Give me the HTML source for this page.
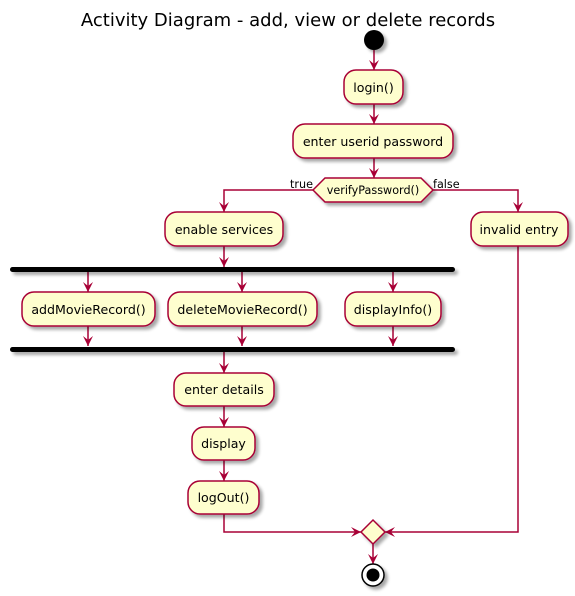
<!DOCTYPE html>
<html><head><style>body{margin:0;background:#fff}svg{display:block}text{font-family:"DejaVu Sans","Liberation Sans",sans-serif;fill:#000}</style></head><body>
<svg width="575" height="596" viewBox="0 0 575 596" xmlns="http://www.w3.org/2000/svg">
<defs>
<filter id="sh" x="-10%" y="-10%" width="130%" height="140%"><feGaussianBlur in="SourceAlpha" stdDeviation="1.5"/><feOffset dx="3" dy="3"/><feComponentTransfer><feFuncA type="linear" slope="0.35"/></feComponentTransfer><feMerge><feMergeNode/><feMergeNode in="SourceGraphic"/></feMerge></filter>
<marker id="ar" viewBox="0 0 10 10" refX="10" refY="5" markerWidth="10" markerHeight="10" markerUnits="userSpaceOnUse" orient="auto"><path d="M0,0 L10,5 L0,10 L4,5 Z" fill="#A80036"/></marker>
</defs>
<text x="288" y="26" font-size="18" text-anchor="middle">Activity Diagram - add, view or delete records</text>
<g stroke="#A80036" stroke-width="1.5" fill="none">
<line x1="374" y1="50" x2="374" y2="70" marker-end="url(#ar)"/>
<line x1="374" y1="104" x2="374" y2="124" marker-end="url(#ar)"/>
<line x1="374" y1="158" x2="374" y2="178" marker-end="url(#ar)"/>
<polyline points="313,190 224,190 224,212" marker-end="url(#ar)"/>
<polyline points="433,190 518,190 518,212" marker-end="url(#ar)"/>
<line x1="224" y1="246" x2="224" y2="267" marker-end="url(#ar)"/>
<line x1="88" y1="272" x2="88" y2="292" marker-end="url(#ar)"/>
<line x1="242" y1="272" x2="242" y2="292" marker-end="url(#ar)"/>
<line x1="393" y1="272" x2="393" y2="292" marker-end="url(#ar)"/>
<line x1="88" y1="326" x2="88" y2="346" marker-end="url(#ar)"/>
<line x1="242" y1="326" x2="242" y2="346" marker-end="url(#ar)"/>
<line x1="393" y1="326" x2="393" y2="346" marker-end="url(#ar)"/>
<line x1="224" y1="352" x2="224" y2="373" marker-end="url(#ar)"/>
<line x1="224" y1="406" x2="224" y2="427" marker-end="url(#ar)"/>
<line x1="224" y1="460" x2="224" y2="481" marker-end="url(#ar)"/>
<polyline points="224,514 224,532 361,532" marker-end="url(#ar)"/>
<polyline points="518,246 518,532 385,532" marker-end="url(#ar)"/>
<line x1="373" y1="544" x2="373" y2="564" marker-end="url(#ar)"/>
</g>
<g filter="url(#sh)">
<circle cx="374" cy="40" r="10" fill="#000"/>
<g fill="#FEFECE" stroke="#A80036" stroke-width="1.5">
<rect x="344" y="70" width="59" height="34" rx="12"/>
<rect x="293" y="124" width="160" height="34" rx="12"/>
<polygon points="313,190 325,178 421,178 433,190 421,202 325,202"/>
<rect x="165" y="212" width="118" height="34" rx="12"/>
<rect x="471" y="212" width="97" height="34" rx="12"/>
<rect x="22" y="292" width="133" height="34" rx="12"/>
<rect x="168" y="292" width="149" height="34" rx="12"/>
<rect x="345" y="292" width="96" height="34" rx="12"/>
<rect x="174" y="373" width="100" height="33" rx="12"/>
<rect x="192" y="427" width="63" height="33" rx="12"/>
<rect x="188" y="481" width="71" height="33" rx="12"/>
<polygon points="373,520 385,532 373,544 361,532"/>
</g>
<rect x="10" y="267" width="445" height="5" rx="2.5" fill="#000"/>
<rect x="10" y="347" width="445" height="5" rx="2.5" fill="#000"/>
<circle cx="373" cy="575" r="11" fill="#fff" stroke="#000" stroke-width="1.5"/>
<circle cx="373" cy="575" r="6.5" fill="#000"/>
</g>
<g font-size="12.6" text-anchor="middle">
<text x="373.5" y="92">login()</text>
<text x="373" y="146">enter userid password</text>
<text x="373" y="194" font-size="11.2">verifyPassword()</text>
<text x="224" y="234">enable services</text>
<text x="519" y="234">invalid entry</text>
<text x="88.5" y="314">addMovieRecord()</text>
<text x="242.5" y="314">deleteMovieRecord()</text>
<text x="393" y="314">displayInfo()</text>
<text x="224" y="394">enter details</text>
<text x="223.5" y="448">display</text>
<text x="223.5" y="502">logOut()</text>
</g>
<text x="313" y="188" font-size="11.2" text-anchor="end">true</text>
<text x="433" y="188" font-size="11.2">false</text>
</svg>
</body></html>
